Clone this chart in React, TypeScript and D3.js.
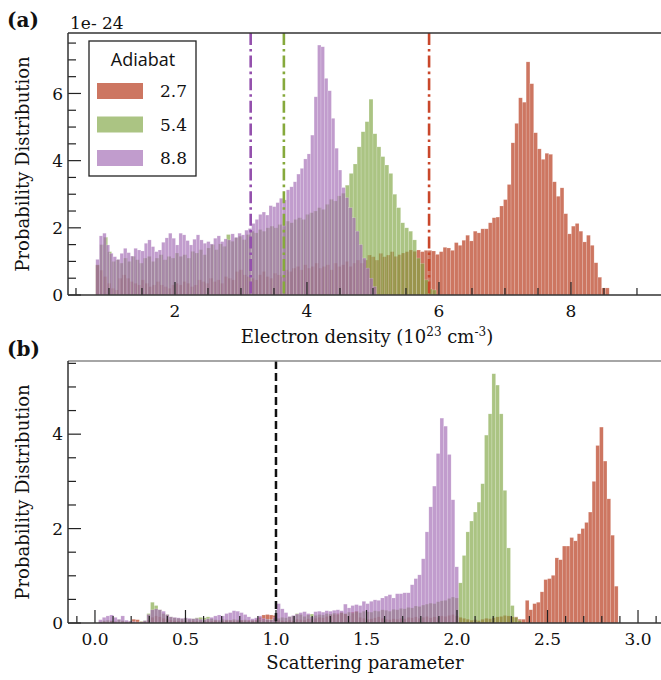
import * as d3 from "d3";

// Panel (a): electron density histograms (heights in units of 1e-24)
const densityStart = 0.8;
const redDensityBin = 0.0572;
const redDensity = [
  0.89, 0.74, 0.55, 0.35, 0.2, 0.15, 0.5, 0.6, 0.5, 0.4,
  0.35, 0.3, 0.45, 0.35, 0.25, 0.3, 0.4, 0.3, 0.25, 0.2,
  0.3, 0.35, 0.3, 0.4, 0.35, 0.25, 0.3, 0.45, 0.4, 0.35,
  0.5, 0.4, 0.45, 0.35, 0.55, 0.5, 0.45, 0.7, 0.75, 0.6,
  0.55, 0.5, 0.45, 0.6, 0.7, 0.55, 0.5, 0.65, 0.6, 0.55,
  0.75, 0.7, 0.8, 0.85, 0.75, 0.9, 0.8, 0.85, 0.95, 0.8,
  0.85, 0.9, 0.75, 0.95, 0.85, 0.9, 1.0, 0.85, 0.95, 1.04,
  0.95, 1.04, 1.19, 1.14, 1.04, 1.24, 1.14, 1.19, 1.29, 1.15,
  1.2, 1.25, 1.29, 1.34, 1.3, 1.34,
  1.29, 1.33, 1.33, 1.31, 1.21, 1.29, 1.42, 1.4, 1.33, 1.56,
  1.48, 1.63, 1.78, 1.61, 1.9, 1.85, 1.97, 1.97, 2.15, 2.3,
  2.32, 2.65, 2.84, 3.29, 4.53, 5.11, 5.87, 5.74, 6.94, 6.29,
  4.83, 4.35, 4.04, 4.22, 4.19, 3.37, 2.94, 3.19, 2.42, 1.82,
  2.05, 2.13, 1.9, 1.58, 1.78, 1.48, 0.96, 0.53, 0.21, 0.21,
];
const greenDensityBin = 0.06;
const greenDensity = [
  0.9, 1.5, 1.72, 1.29, 1.0,
  1.05, 0.95, 1.1, 1.0, 1.15, 1.05, 0.95, 1.1, 1.15, 1.0,
  1.1, 1.2, 1.05, 1.15, 1.1, 1.25, 1.15, 1.2, 1.1, 1.3,
  1.25, 1.35, 1.2, 1.4, 1.5, 1.35, 1.52, 1.45, 1.8, 1.6,
  1.7, 1.75, 1.65, 1.8, 1.9, 1.85, 1.95, 1.9, 2.0, 2.05,
  2.0, 2.1, 2.05, 2.2, 2.15, 2.25, 2.3, 2.25, 2.4, 2.45,
  2.5, 2.6, 2.55, 2.7, 2.85, 2.8, 2.95, 3.03,
  3.27, 3.62, 3.9, 4.41, 4.86, 5.16, 5.83,
  4.8, 4.41, 4.12, 3.87, 3.62, 3.0, 2.6, 2.15, 2.0, 1.9,
  1.64, 1.1, 0.94, 0.45, 0.18, 0.15,
];
const purpleDensityBin = 0.0525;
const purpleDensity = [
  1.06, 1.76, 1.84, 1.49, 1.24, 1.14, 1.06, 1.24, 1.39, 1.26,
  1.16, 1.39, 1.34, 1.31, 1.54, 1.64, 1.44, 1.29, 1.34, 1.57,
  1.7, 1.84, 1.69, 1.49, 1.84, 1.79, 1.62, 1.49, 1.66, 1.79,
  1.64, 1.54, 1.59, 1.52, 1.69, 1.76, 1.59, 1.67, 1.64, 1.82,
  1.72, 1.84, 1.79, 1.93, 1.98,
  2.13, 2.25, 2.4, 2.47, 2.38, 2.66, 2.63, 2.75, 2.88, 2.83,
  3.13, 3.22, 3.37, 3.6, 3.77, 4.05, 4.2, 4.76, 5.9, 7.44,
  7.39, 6.45, 6.08, 5.26, 4.37, 3.72, 3.2, 2.9, 2.6, 2.3,
  1.9, 1.5, 1.1, 0.8, 0.5, 0.25,
];
// mean density marked by the dash-dot lines, order 2.7, 5.4, 8.8
const densityMeans = [5.85, 3.65, 3.147];

// Panel (b): scattering parameter histograms
const scatterStart = 0.02;
const scatterBin = 0.0205;
const redScatter = [
  0.02, 0.03, 0.02, 0.04, 0.03, 0.02, 0.03, 0.02, 0.03, 0.08,
  0.07, 0.03, 0.02, 0.06, 0.12, 0.15, 0.13, 0.1, 0.08, 0.06,
  0.05, 0.04, 0.05, 0.04, 0.03, 0.05, 0.04, 0.03, 0.04, 0.05,
  0.04, 0.05, 0.03, 0.04, 0.05, 0.06, 0.05, 0.04, 0.06, 0.05,
  0.06, 0.05, 0.07, 0.12, 0.17, 0.18, 0.17, 0.16, 0.06, 0.05,
  0.04, 0.06, 0.05, 0.08, 0.07, 0.06, 0.09, 0.08, 0.1, 0.12,
  0.11, 0.14, 0.16, 0.18, 0.2, 0.22, 0.19, 0.15, 0.23, 0.25,
  0.12, 0.1, 0.08, 0.09, 0.11, 0.13, 0.1, 0.08, 0.07, 0.09,
  0.08, 0.1, 0.09, 0.12, 0.11, 0.13, 0.1, 0.12, 0.14, 0.11,
  0.13, 0.12, 0.15, 0.14, 0.16, 0.18, 0.15, 0.12, 0.1, 0.08,
  0.06, 0.07, 0.05, 0.08, 0.1, 0.09, 0.11, 0.13, 0.14, 0.16,
  0.15, 0.13, 0.13, 0.08, 0.08, 0.48, 0.28, 0.41, 0.44, 0.66,
  0.92, 0.94, 1.01, 1.38, 1.34, 1.63, 1.63, 1.81, 1.74, 1.89,
  2.0, 2.13, 2.35, 3.0, 3.76, 4.15, 3.43, 2.63, 1.86, 0.78,
];
const greenScatter = [
  0.03, 0.05, 0.06, 0.05, 0.03, 0.07, 0.05, 0.03, 0.02, 0.02,
  0.02, 0.03, 0.05, 0.2, 0.44, 0.37, 0.28, 0.2, 0.18, 0.13,
  0.11, 0.1, 0.09, 0.1, 0.08, 0.09, 0.11, 0.12, 0.11, 0.13,
  0.09, 0.07, 0.06, 0.08, 0.07, 0.06, 0.08, 0.07, 0.06, 0.07,
  0.05, 0.06, 0.05, 0.07, 0.06, 0.08, 0.07, 0.09, 0.1, 0.12,
  0.11, 0.13, 0.15, 0.2, 0.18, 0.14, 0.17, 0.19, 0.16, 0.18,
  0.17, 0.2, 0.19, 0.21, 0.18, 0.22, 0.2, 0.23, 0.21, 0.24,
  0.22, 0.25, 0.24, 0.23, 0.26, 0.25, 0.28, 0.27, 0.25, 0.29,
  0.28, 0.31, 0.3, 0.33, 0.32, 0.36, 0.35, 0.38, 0.4, 0.42,
  0.41, 0.45, 0.47, 0.48, 0.52, 0.55, 0.53, 0.85, 1.43, 1.93,
  2.16, 2.35, 2.56, 2.95, 3.98, 4.43, 5.28, 5.04, 4.43, 2.81,
  1.59, 0.37, 0.12, 0.05,
];
const purpleScatter = [
  0.07, 0.12, 0.15, 0.17, 0.12, 0.08, 0.15, 0.06, 0.04, 0.03,
  0.02, 0.02, 0.05, 0.18, 0.28, 0.3, 0.28, 0.25, 0.18, 0.13,
  0.12, 0.11, 0.1, 0.11, 0.1, 0.09, 0.1, 0.08, 0.07, 0.09,
  0.12, 0.15, 0.17, 0.15, 0.2, 0.22, 0.26, 0.25, 0.22, 0.18,
  0.13, 0.09, 0.11, 0.15, 0.1, 0.08, 0.07, 0.12, 0.41, 0.3,
  0.22, 0.14, 0.16, 0.19, 0.22, 0.24, 0.2, 0.13, 0.24, 0.25,
  0.23, 0.26, 0.25, 0.27, 0.28, 0.26, 0.4, 0.32, 0.37, 0.39,
  0.37, 0.46, 0.41, 0.46, 0.49, 0.48, 0.53, 0.57, 0.6, 0.53,
  0.62, 0.62, 0.64, 0.64, 0.81, 0.94, 1.02, 1.36, 1.93, 2.46,
  2.9, 3.59, 4.34, 4.17, 3.57, 2.61, 1.19,
];
const scatterThreshold = 1.0;

const adiabats = ["2.7", "5.4", "8.8"];
const barColors = ["#b22c0d", "#7ea440", "#a067b2"];
const lineColors = ["#c9472b", "#86a93c", "#9450ad"];
const barOpacity = 0.65;

const W = 661;
const H = 680;
const FONT = "DejaVu Serif, serif";

type Scale = d3.ScaleLinear<number, number>;

function Hist({ values, start, bin, x, y, color }: {
  values: number[]; start: number; bin: number; x: Scale; y: Scale; color: string;
}) {
  return (
    <g>
      {values.map((v, i) => {
        const x0 = x(start + i * bin);
        const x1 = x(start + (i + 1) * bin);
        return (
          <rect key={i} x={x0} y={y(v)} width={x1 - x0} height={y(0) - y(v)}
            fill={color} fillOpacity={barOpacity}
            stroke="#fff" strokeOpacity={0.35} strokeWidth={0.5} />
        );
      })}
    </g>
  );
}

function Axes({ x, y, xMajor, xMinor, yMajor, yMinor, xFmt, topColor }: {
  x: Scale; y: Scale; xMajor: number[]; xMinor: number[]; yMajor: number[]; yMinor: number[];
  xFmt: (v: number) => string; topColor: string;
}) {
  const [x0, x1] = x.range();
  const [yb, yt] = y.range();
  const tc = "#222";
  return (
    <g>
      {xMinor.map((v) => (
        <line key={"xm" + v} x1={x(v)} x2={x(v)} y1={yb} y2={yb - 7} stroke={tc} strokeWidth={1.2} />
      ))}
      {xMajor.map((v) => (
        <g key={"xM" + v}>
          <line x1={x(v)} x2={x(v)} y1={yb} y2={yb - 13} stroke={tc} strokeWidth={1.2} />
          <text x={x(v)} y={yb + 22} textAnchor="middle" fontFamily={FONT} fontSize={17} fill="#111">
            {xFmt(v)}
          </text>
        </g>
      ))}
      {yMinor.map((v) => (
        <line key={"ym" + v} x1={x0} x2={x0 + 8} y1={y(v)} y2={y(v)} stroke={tc} strokeWidth={1.2} />
      ))}
      {yMajor.map((v) => (
        <g key={"yM" + v}>
          <line x1={x0} x2={x0 + 13} y1={y(v)} y2={y(v)} stroke={tc} strokeWidth={1.2} />
          <text x={x0 - 5} y={y(v)} dy="0.36em" textAnchor="end" fontFamily={FONT} fontSize={17} fill="#111">
            {v}
          </text>
        </g>
      ))}
      <line x1={x0} x2={x1} y1={yt} y2={yt} stroke={topColor} strokeWidth={1.5} />
      <line x1={x0} x2={x0} y1={yt} y2={yb} stroke="#333" strokeWidth={1.5} />
      <line x1={x0} x2={x1} y1={yb} y2={yb} stroke="#333" strokeWidth={1.5} />
    </g>
  );
}

export default function App() {
  // panel (a)
  const xa = d3.scaleLinear().domain([0.379, 9.364]).range([68, 661]);
  const ya = d3.scaleLinear().domain([0, 7.8]).range([295, 33]);
  // panel (b)
  const xb = d3.scaleLinear().domain([-0.149, 3.127]).range([68, 661]);
  const yb = d3.scaleLinear().domain([0, 5.55]).range([623, 361]);

  const densitySeries = [
    { values: redDensity, bin: redDensityBin },
    { values: greenDensity, bin: greenDensityBin },
    { values: purpleDensity, bin: purpleDensityBin },
  ];
  const scatterSeries = [redScatter, greenScatter, purpleScatter];

  const xaMajor = [2, 4, 6, 8];
  const xaMinor = d3.range(1, 19).map((i) => i / 2).filter((v) => v % 2 !== 0);
  const yaMajor = [0, 2, 4, 6];
  const yaMinor = d3.range(0, 16).map((i) => i / 2).filter((v) => v % 2 !== 0);
  const xbMajor = d3.range(0, 7).map((i) => i / 2);
  const xbMinor = d3.range(-1, 32).filter((i) => i % 5 !== 0).map((i) => i / 10);
  const ybMajor = [0, 2, 4];
  const ybMinor = d3.range(0, 12).map((i) => i / 2).filter((v) => v % 2 !== 0);

  return (
    <div style={{ position: "absolute", left: 0, top: 0 }}>
      <svg width={W} height={H} style={{ display: "block", background: "#fff" }}>
        {/* panel (a) */}
        {densitySeries.map((s, k) => (
          <Hist key={k} values={s.values} start={densityStart} bin={s.bin} x={xa} y={ya} color={barColors[k]} />
        ))}
        {densityMeans.map((m, k) => (
          <line key={k} x1={xa(m)} x2={xa(m)} y1={ya.range()[1]} y2={ya(0)}
            stroke={lineColors[k]} strokeWidth={2.6} strokeDasharray="12,4,2.6,4" />
        ))}
        <Axes x={xa} y={ya} xMajor={xaMajor} xMinor={xaMinor} yMajor={yaMajor} yMinor={yaMinor}
          xFmt={(v) => String(v)} topColor="#333" />
        <text x={70} y={29} fontFamily={FONT} fontSize={17} fill="#111">1e- 24</text>
        <text x={7} y={27} fontFamily={FONT} fontSize={20} fontWeight="bold" fill="#111">(a)</text>
        <text transform={`translate(29,${(ya.range()[0] + ya.range()[1]) / 2}) rotate(-90)`}
          textAnchor="middle" fontFamily={FONT} fontSize={18} fill="#111">Probability Distribution</text>
        <text x={367} y={343} textAnchor="middle" fontFamily={FONT} fontSize={18} fill="#111">
          Electron density (10<tspan dy={-7} fontSize={12}>23</tspan>
          <tspan dy={7}> cm</tspan><tspan dy={-7} fontSize={12}>-3</tspan><tspan dy={7}>)</tspan>
        </text>

        {/* legend */}
        <g>
          <rect x={89} y={41} width={107} height={135} fill="#fff" stroke="#222" strokeWidth={1.3} />
          <text x={143} y={66} textAnchor="middle" fontFamily="Open Sans, sans-serif" fontSize={18} fill="#111">
            Adiabat
          </text>
          {adiabats.map((a, k) => (
            <g key={a}>
              <rect x={97} y={83 + k * 33.5} width={46} height={16} fill={barColors[k]} fillOpacity={barOpacity} />
              <text x={160} y={97 + k * 33.5} fontFamily={FONT} fontSize={17} fill="#111">{a}</text>
            </g>
          ))}
        </g>

        {/* panel (b) */}
        {scatterSeries.map((s, k) => (
          <Hist key={k} values={s} start={scatterStart} bin={scatterBin} x={xb} y={yb} color={barColors[k]} />
        ))}
        <line x1={xb(scatterThreshold)} x2={xb(scatterThreshold)} y1={yb.range()[1]} y2={yb(0)}
          stroke="#111" strokeWidth={2.5} strokeDasharray="8,4" />
        <Axes x={xb} y={yb} xMajor={xbMajor} xMinor={xbMinor} yMajor={ybMajor} yMinor={ybMinor}
          xFmt={(v) => v.toFixed(1)} topColor="#888" />
        <text x={7} y={356} fontFamily={FONT} fontSize={20} fontWeight="bold" fill="#111">(b)</text>
        <text transform={`translate(29,${(yb.range()[0] + yb.range()[1]) / 2}) rotate(-90)`}
          textAnchor="middle" fontFamily={FONT} fontSize={18} fill="#111">Probability Distribution</text>
        <text x={365} y={669} textAnchor="middle" fontFamily={FONT} fontSize={18} fill="#111">
          Scattering parameter
        </text>
      </svg>
    </div>
  );
}
